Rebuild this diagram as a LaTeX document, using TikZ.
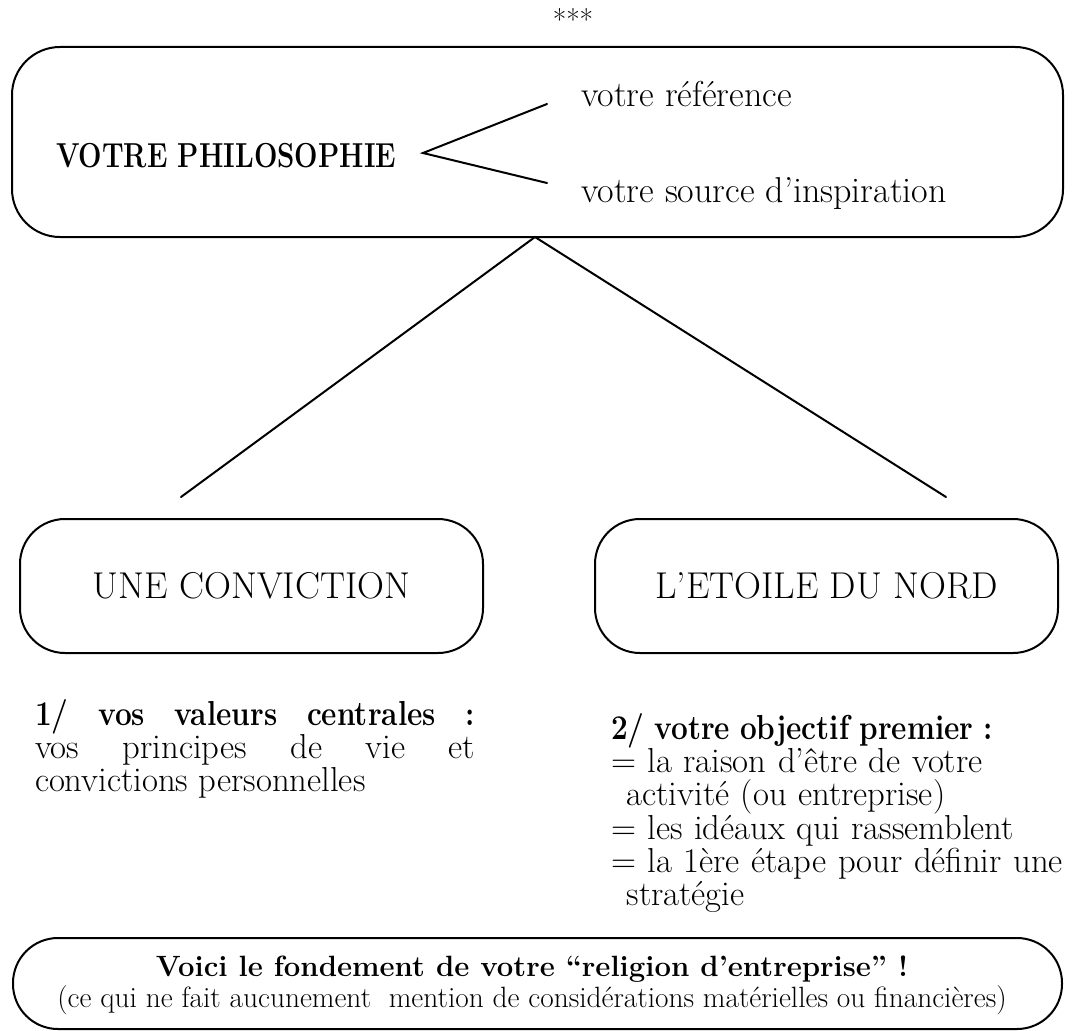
\documentclass[tikz,border=0pt]{standalone}
\usepackage{fontspec}
\newcommand\cbold[1]{\scalebox{0.86}[1]{\textbf{#1}}}
\begin{document}
\begin{tikzpicture}[x=0.75pt,y=-0.75pt,
  line width=1.5pt,
  body/.style={font=\fontsize{26}{25}\selectfont, inner sep=0pt},
  boxlabel/.style={font=\fontsize{28}{30}\selectfont},
  branch/.style={font=\fontsize{27}{30}\selectfont, inner sep=0pt},
  roundbox/.style={draw, rounded corners=#1, inner sep=0pt},
  link/.style={line width=1.5pt, line cap=round}]
\useasboundingbox (0,0) rectangle (1074,1031);
% stars
\node[font=\fontsize{22}{24}\selectfont, inner sep=0pt] (stars) at (573,20) {***};
% top box
\node[roundbox=36pt, minimum width=788.25pt, minimum height=142.5pt] (phil) at (537.5,142) {};
\node[font=\fontsize{26}{28}\selectfont\bfseries, inner sep=0pt, anchor=base west] (philtxt) at (55,167) {\scalebox{0.8}[1]{VOTRE PHILOSOPHIE}};
\coordinate (bv) at (423,153);
\coordinate (bu) at (547,104);
\coordinate (bd) at (547,183);
\draw[link] (bu) -- (bv) -- (bd);
\node[branch, anchor=base west] (ref) at (580,106) {votre référence};
\node[branch, anchor=base west] (insp) at (580,202) {votre source d’inspiration};
% connectors
\coordinate (apex) at (535,237);
\coordinate (endl) at (181,497);
\coordinate (endr) at (946,497);
\draw[link] (endl) -- (apex) -- (endr);
% middle boxes
\node[roundbox=33.75pt, minimum width=347.25pt, minimum height=100.5pt, boxlabel] (conv) at (251.5,586) {UNE CONVICTION};
\node[roundbox=33.75pt, minimum width=347.25pt, minimum height=100.5pt, boxlabel] (etoile) at (826.5,586) {L’ETOILE DU NORD};
% left text
\node[body, anchor=north west, text width=330pt, align=justify] (val) at (34,698)
 {\cbold{1/} \cbold{vos} \cbold{valeurs} \cbold{centrales} \cbold{:}\linebreak vos principes de vie et\linebreak convictions personnelles};
% right text
\node[body, anchor=north west, text width=375pt, align=left] (obj) at (610,712)
 {\cbold{2/ votre objectif premier :}\\
 = la raison d’être de votre\\
 \hspace*{0.45em}activité (ou entreprise)\\
 = les idéaux qui rassemblent\\
 = la 1ère étape pour définir une\\
 \hspace*{0.45em}stratégie};
% bottom box
\node[roundbox=33.75pt, minimum width=786.75pt, minimum height=68.25pt] (fond) at (537.5,983.5) {};
\node[font=\fontsize{22}{24}\selectfont\bfseries, inner sep=0pt, anchor=base] (fondt) at (532,976) {Voici le fondement de votre “religion d’entreprise” !};
\node[font=\fontsize{22}{24}\selectfont, inner sep=0pt, anchor=base] (fonds) at (532,1007) {(ce qui ne fait aucunement \ mention de considérations matérielles ou financières)};
\end{tikzpicture}
\end{document}
